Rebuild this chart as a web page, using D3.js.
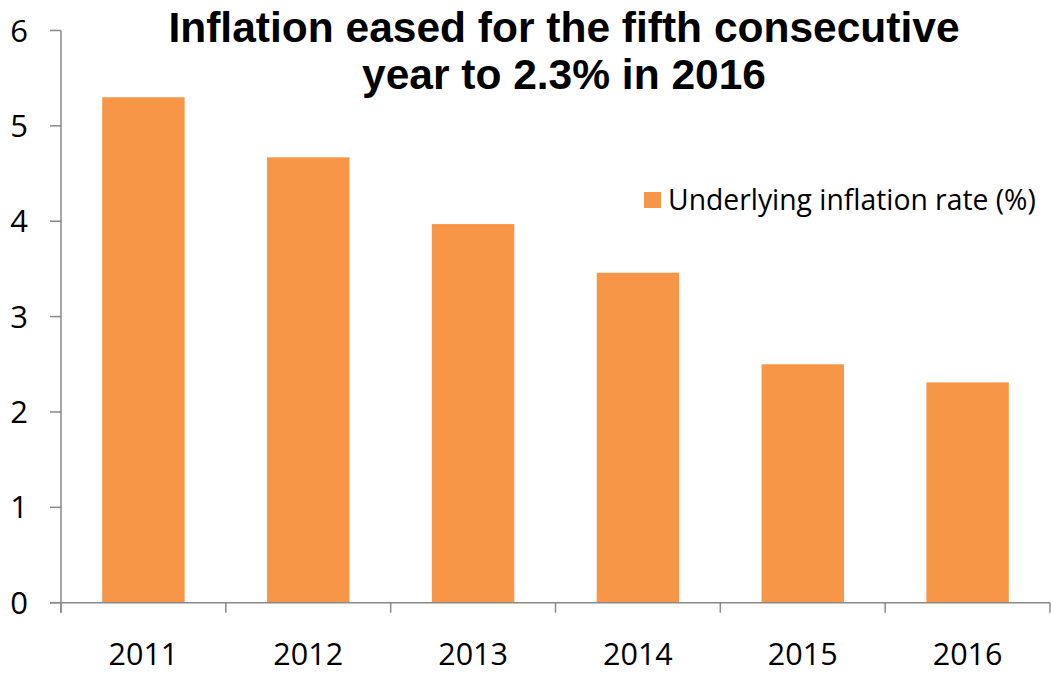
<!DOCTYPE html>
<html><head><meta charset="utf-8">
<script src="https://cdn.jsdelivr.net/npm/d3@7"></script>
<style>body{margin:0;background:#fff;} svg{display:block;}</style>
</head><body>
<svg id="c" width="1051" height="673"></svg>
<script>
const categories = ["2011","2012","2013","2014","2015","2016"];
const values = [5.3, 4.67, 3.97, 3.46, 2.5, 2.31];
const yTicks = [0,1,2,3,4,5,6];
const seriesName = "Underlying inflation rate (%)";
const titleLines = ["Inflation eased for the fifth consecutive", "year to 2.3% in 2016"];

(function(){
const svg = d3.select("#c");
const mLeft = 61, mRight = 1050, mTop = 30.5, mBottom = 602.7;
const axisColor = "#898989";
const barColor = "#F79646";
const labelFont = "'Open Sans', 'Noto Sans', sans-serif";

const x = d3.scaleBand().domain(categories).range([mLeft, mRight]).paddingInner(0.5).paddingOuter(0.25);
const xb = d3.scaleBand().domain(categories).range([mLeft, mRight]);
const y = d3.scaleLinear().domain([0, 6]).range([mBottom, mTop]);

// bars
svg.append("g").selectAll("rect").data(values).join("rect")
  .attr("x", (d,i) => x(categories[i]))
  .attr("width", x.bandwidth())
  .attr("y", d => y(d))
  .attr("height", d => y(0) - y(d))
  .attr("fill", barColor);

// y axis
const ya = svg.append("g").attr("transform", `translate(${mLeft},0)`)
  .attr("font-size", 31).attr("font-family", labelFont);
ya.append("line").attr("x1", 0).attr("x2", 0).attr("y1", mTop).attr("y2", mBottom + 10)
  .attr("stroke", axisColor).attr("stroke-width", 1.5);
ya.selectAll("line.tk").data(yTicks).join("line").attr("class", "tk")
  .attr("x1", -11).attr("x2", 0).attr("y1", d => y(d)).attr("y2", d => y(d))
  .attr("stroke", axisColor).attr("stroke-width", 1.5);
ya.selectAll("text").data(yTicks).join("text")
  .attr("x", -33).attr("y", d => y(d)).attr("dy", "0.36em")
  .attr("text-anchor", "end").attr("fill", "#000")
  .text(d => d3.format("d")(d));

// x axis
const xa = svg.append("g").attr("transform", `translate(0,${mBottom})`)
  .attr("font-size", 30.5).attr("font-family", labelFont);
xa.append("line").attr("x1", mLeft - 11).attr("x2", mRight).attr("y1", 0).attr("y2", 0)
  .attr("stroke", axisColor).attr("stroke-width", 1.5);
const bounds = categories.map(c => xb(c)).concat([mRight]);
xa.selectAll("line.tk").data(bounds).join("line").attr("class","tk")
  .attr("x1", d => d).attr("x2", d => d).attr("y1", 0).attr("y2", 10)
  .attr("stroke", axisColor).attr("stroke-width", 1.5);
xa.selectAll("text").data(categories).join("text")
  .attr("x", d => xb(d) + xb.bandwidth()/2)
  .attr("y", 62.5)
  .attr("text-anchor", "middle").attr("fill", "#000")
  .text(d => d);

// title
svg.append("g").selectAll("text").data(titleLines).join("text")
  .attr("x", 564).attr("y", (d,i) => 42 + i*47)
  .attr("text-anchor", "middle")
  .style("font-family", "'Liberation Sans', Arial, sans-serif")
  .style("font-weight", "bold").style("font-size", "42.5px").attr("fill", "#000")
  .text(d => d);

// legend
const lg = svg.append("g");
lg.append("rect").attr("x", 644).attr("y", 192).attr("width", 17).attr("height", 16).attr("fill", barColor);
lg.append("text").attr("x", 668).attr("y", 210).style("font-family", labelFont)
  .style("font-size", "28.3px").attr("fill", "#000").text(seriesName);
})();
</script>
</body></html>
